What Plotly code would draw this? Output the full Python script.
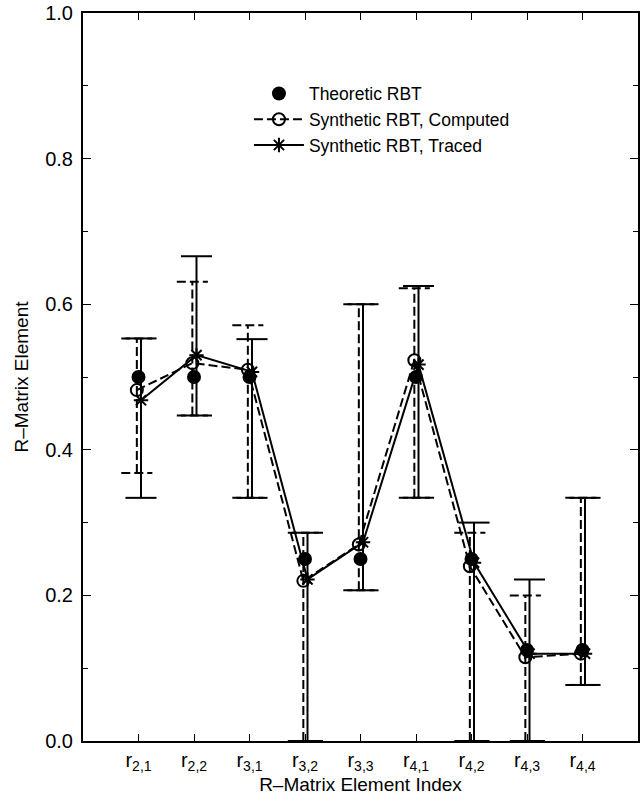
import plotly.graph_objects as go

# ---- data ----
labels = ["r<sub>2,1</sub>", "r<sub>2,2</sub>", "r<sub>3,1</sub>", "r<sub>3,2</sub>", "r<sub>3,3</sub>",
          "r<sub>4,1</sub>", "r<sub>4,2</sub>", "r<sub>4,3</sub>", "r<sub>4,4</sub>"]
theoretic = [0.5, 0.5, 0.5, 0.25, 0.25, 0.5, 0.25, 0.125, 0.125]
computed = [0.482, 0.519, 0.510, 0.220, 0.270, 0.523, 0.240, 0.115, 0.120]
computed_hi = [0.553, 0.631, 0.571, 0.286, 0.600, 0.622, 0.286, 0.200, 0.334]
computed_lo = [0.368, 0.447, 0.334, 0.0, 0.207, 0.334, 0.0, 0.0, 0.077]
traced = [0.468, 0.530, 0.507, 0.222, 0.273, 0.517, 0.245, 0.120, 0.120]
traced_hi = [0.553, 0.666, 0.552, 0.286, 0.600, 0.625, 0.300, 0.222, 0.334]
traced_lo = [0.334, 0.447, 0.334, 0.0, 0.207, 0.334, 0.0, 0.0, 0.077]

idx = list(range(1, len(labels) + 1))
off_c, off_t, cap = -0.03, 0.045, 0.28
xc = [i + off_c for i in idx]
xt = [i + off_t for i in idx]


def bar_segments(xs, lo, hi):
    X, Y = [], []
    for x, l, h in zip(xs, lo, hi):
        X += [x, x, None, x - cap, x + cap, None, x - cap, x + cap, None]
        Y += [l, h, None, h, h, None, l, l, None]
    return X, Y


fig = go.Figure()
bx, by = bar_segments(xc, computed_lo, computed_hi)
fig.add_trace(go.Scatter(x=bx, y=by, mode="lines", showlegend=False, hoverinfo="skip",
                         line=dict(color="black", width=2, dash="9px,4px")))
bx, by = bar_segments(xt, traced_lo, traced_hi)
fig.add_trace(go.Scatter(x=bx, y=by, mode="lines", showlegend=False, hoverinfo="skip",
                         line=dict(color="black", width=2)))

fig.add_trace(go.Scatter(x=xc, y=computed, mode="lines+markers", name="Synthetic RBT, Computed",
                         legendrank=2,
                         line=dict(color="black", width=2, dash="9px,4px"),
                         marker=dict(symbol="circle-open", size=12, color="black", line=dict(width=2))))
fig.add_trace(go.Scatter(x=xt, y=traced, mode="lines+markers", name="Synthetic RBT, Traced",
                         legendrank=3,
                         line=dict(color="black", width=2),
                         marker=dict(symbol="asterisk-open", size=12, color="black", line=dict(width=2))))
fig.add_trace(go.Scatter(x=idx, y=theoretic, mode="markers", name="Theoretic RBT",
                         legendrank=1,
                         marker=dict(symbol="circle", size=14, color="black")))

font = "Liberation Sans, Arial, Helvetica, sans-serif"
fig.update_layout(
    width=644, height=797,
    margin=dict(l=83, r=6, t=13, b=56),
    paper_bgcolor="white", plot_bgcolor="white",
    font=dict(family=font, size=19, color="black"),
    showlegend=True,
    legend=dict(x=0.299, y=0.914, xanchor="left", yanchor="top", bgcolor="rgba(0,0,0,0)",
                font=dict(size=17.5), tracegroupgap=0, itemwidth=50),
    xaxis=dict(range=[0, 10], tickmode="array", tickvals=idx, ticktext=labels,
               automargin=False, ticklabeloverflow="allow",
               showline=True, linecolor="black", linewidth=2, mirror="ticks",
               ticks="inside", ticklen=7, tickwidth=1, tickcolor="black",
               showgrid=False, zeroline=False,
               ticklabelstandoff=0,
               tickfont=dict(size=20),
               title=dict(text="R\u2013Matrix Element Index", font=dict(size=19), standoff=2)),
    yaxis=dict(range=[0, 1], tickmode="array", tickvals=[0, 0.2, 0.4, 0.6, 0.8, 1.0],
               tickformat=".1f",
               automargin=False, ticklabeloverflow="allow",
               showline=True, linecolor="black", linewidth=2, mirror="ticks",
               ticks="inside", ticklen=8, tickwidth=1, tickcolor="black",
               minor=dict(tickvals=[0.1, 0.3, 0.5, 0.7, 0.9], ticks="inside", ticklen=5,
                          tickcolor="black", tickwidth=1),
               showgrid=False, zeroline=False,
               ticklabelstandoff=4,
               tickfont=dict(size=20),
               title=dict(text="R\u2013Matrix Element", font=dict(size=19), standoff=12)),
)

fig.write_html("out.html", config={"displayModeBar": False},
               post_script="document.body.style.margin='0';document.body.style.overflow='hidden';")
